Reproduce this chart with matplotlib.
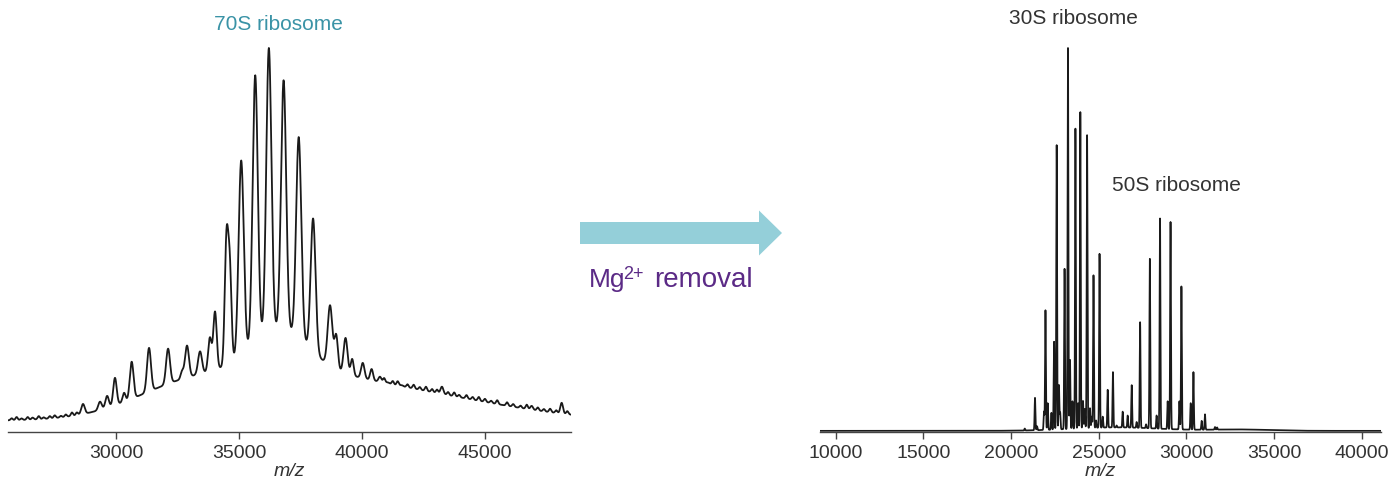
import numpy as np
import matplotlib.pyplot as plt
import matplotlib.patches as mpatches

plt.rcParams['font.family'] = ['Liberation Sans', 'DejaVu Sans']

# --- 70S spectrum (intensity in % of base peak) ---
# broad unresolved hump: centre, height, width
left_env_mz = [36700, 36000, 42000, 32500]
left_env_h = [10.0, 11.0, 6.0, 3.5]
left_env_w = [1100, 3500, 4000, 2000]
left_offset = 2.9
# resolved charge states: apex m/z, apex height, width
left_peak_mz = [28650, 29340, 29630, 29950, 30320, 30630, 31335, 32110, 32680,
                32880, 33410, 33810, 34020, 34485, 34620, 35085, 35655, 36210,
                36810, 37425, 38010, 38700, 38950, 39330, 39600, 40030, 40390,
                40730, 41050, 41610, 43250, 46900, 48120]
left_peak_top = [7.3, 7.9, 9.4, 14.1, 10.2, 18.3, 21.9, 21.7, 15.7,
                 22.5, 21.0, 24.5, 31.3, 49.0, 42.0, 70.7, 92.9, 100.0,
                 91.6, 76.8, 55.6, 33.0, 25.0, 24.5, 19.0, 18.0, 16.4,
                 14.4, 12.6, 12.2, 11.8, 6.8, 7.6]
left_peak_w = [70, 70, 70, 70, 60, 75, 80, 80, 60,
               80, 80, 70, 70, 70, 70, 105, 105, 105,
               105, 105, 100, 95, 70, 80, 60, 70, 60,
               60, 60, 60, 60, 55, 55]
# small ripples on the tails
left_ripple_mz = [25750, 25950, 26150, 26400, 26600, 26850, 27050, 27300,
                  27500, 27750, 27950, 28200, 28400, 40900, 41250, 41450,
                  41850, 42100, 42350, 42600, 42850, 43050, 43500, 43750,
                  43950, 44250, 44500, 44750, 45000, 45250, 45500, 45900,
                  46150, 46450, 46700, 47150, 47400, 47650, 47900, 48350]
left_ripple_h = [0.5, 0.8, 0.4, 0.7, 0.5, 0.8, 0.4, 0.6,
                 0.7, 0.4, 0.6, 0.9, 0.7, 1.2, 0.9, 1.1,
                 0.8, 1.0, 0.7, 1.1, 0.8, 0.9, 0.8, 1.0,
                 0.6, 0.9, 0.7, 1.0, 0.8, 0.6, 1.0, 0.9,
                 0.7, 0.6, 1.1, 0.8, 0.6, 0.9, 0.7, 0.8]

# --- 30S + 50S spectrum after Mg2+ removal ---
right_env_mz = [26000, 33000]
right_env_h = [0.9, 0.35]
right_env_w = [2500, 1700]
right_offset = 0.3
right_peak_mz = [20780, 21364, 21480, 21877, 21960, 22087, 22300, 22450, 22600,
                 22730, 22800, 23050, 23245, 23360, 23500, 23670, 23820, 23950,
                 24100, 24200, 24335, 24500, 24600, 24700, 24850, 25045, 25225,
                 25510, 25810, 26020, 26365, 26650, 26880, 27160, 27360, 27700,
                 27915, 28300, 28495, 28930, 29095, 29600, 29715, 30245, 30400,
                 30870, 31060, 31630, 31750]
right_peak_top = [0.9, 8.9, 1.5, 5.3, 31.7, 7.5, 5.0, 23.5, 74.7,
                  12.2, 5.0, 42.5, 100.0, 18.8, 8.0, 79.0, 7.5, 83.3,
                  8.1, 6.0, 77.3, 6.2, 4.0, 40.8, 3.0, 46.4, 4.0,
                  11.0, 15.6, 1.7, 5.3, 4.3, 12.2, 2.6, 28.6, 2.0,
                  45.1, 4.3, 55.6, 8.0, 54.7, 8.0, 37.9, 7.5, 15.6,
                  2.9, 4.6, 1.3, 1.2]

left_ticks = [30000, 35000, 40000, 45000]
right_ticks = [10000, 15000, 20000, 25000, 30000, 35000, 40000]


def gauss(x, c, h, w):
    return h * np.exp(-0.5 * ((x - c) / w) ** 2)


def hump(x, offset, cs, hs, ws):
    y = np.full_like(np.asarray(x, dtype=float), offset)
    for c, h, w in zip(cs, hs, ws):
        y = y + gauss(x, c, h, w)
    return y


# build left trace
xl = np.linspace(25600, 48500, 8000)
yl = hump(xl, left_offset, left_env_mz, left_env_h, left_env_w)
for c, h in zip(left_ripple_mz, left_ripple_h):
    yl += gauss(xl, c, h, 45)
for c, top, w in zip(left_peak_mz, left_peak_top, left_peak_w):
    amp = max(top - hump(c, left_offset, left_env_mz, left_env_h, left_env_w), 0.3)
    yl += gauss(xl, c, amp, w)

# build right trace
xr = np.linspace(9100, 41100, 32001)
yr = hump(xr, right_offset, right_env_mz, right_env_h, right_env_w)
for c, top in zip(right_peak_mz, right_peak_top):
    amp = max(top - hump(c, right_offset, right_env_mz, right_env_h, right_env_w), 0.2)
    yr += gauss(xr, c, amp, 23)

fig = plt.figure(figsize=(13.89, 4.83), dpi=100)
ax1 = fig.add_axes([8 / 1389, 51 / 483, 563 / 1389, 432 / 483])
ax2 = fig.add_axes([820 / 1389, 51 / 483, 561 / 1389, 432 / 483])

ax1.plot(xl, yl, color='#1a1a1a', lw=1.3)
ax2.plot(xr, yr, color='#1a1a1a', lw=1.25)

for ax, lim, ticks in [(ax1, (25600, 48500), left_ticks),
                       (ax2, (9100, 41100), right_ticks)]:
    ax.set_xlim(*lim)
    ax.set_ylim(0, 112.5)
    ax.set_xticks(ticks)
    ax.set_yticks([])
    for s in ['top', 'right', 'left']:
        ax.spines[s].set_visible(False)
    ax.spines['bottom'].set_color('#444444')
    ax.spines['bottom'].set_linewidth(1.0)
    ax.tick_params(axis='x', direction='out', length=5, width=1.0,
                   color='#444444', labelsize=14, labelcolor='#333333', pad=4)
    ax.set_xlabel('m/z', fontsize=14, style='italic', color='#333333', labelpad=1)
    ax.patch.set_alpha(0)

ax1.text(36620, 106, '70S ribosome', ha='center', va='center',
         fontsize=15, color='#3a93a6')
ax2.text(23530, 107.8, '30S ribosome', ha='center', va='center',
         fontsize=15, color='#333333')
ax2.text(29460, 64.1, '50S ribosome', ha='center', va='center',
         fontsize=15, color='#333333')

# arrow between the panels
arrow = mpatches.FancyArrow(5.80, 2.50, 2.02, 0, width=0.22, head_width=0.45,
                            head_length=0.23, length_includes_head=True,
                            transform=fig.dpi_scale_trans, color='#94cfd9', lw=0)
fig.add_artist(arrow)
purple = '#5b2a86'
fig.text(5.89, 1.96, 'Mg', ha='left', va='baseline', fontsize=19,
         color=purple, transform=fig.dpi_scale_trans)
fig.text(6.235, 2.04, '2+', ha='left', va='baseline', fontsize=13,
         color=purple, transform=fig.dpi_scale_trans)
fig.text(7.53, 1.96, 'removal', ha='right', va='baseline', fontsize=20,
         color=purple, transform=fig.dpi_scale_trans)

fig.savefig('out.png', dpi=100)
